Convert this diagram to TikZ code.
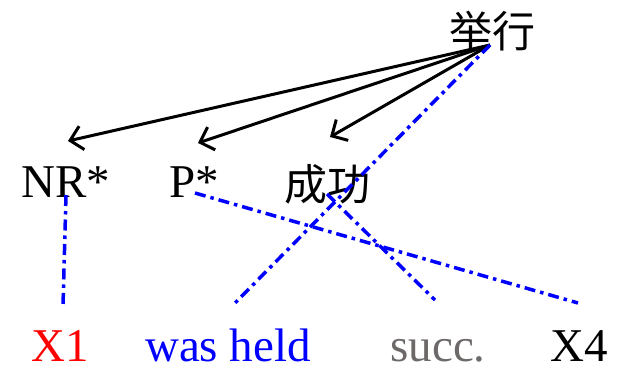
\documentclass[tikz,border=0pt]{standalone}
\usepackage{fontspec}
\setmainfont{Liberation Serif}
\newfontfamily\cjk{Noto Sans CJK SC}
\usetikzlibrary{arrows.meta}
\tikzset{
  lbl/.style={inner sep=0pt, anchor=base, font=\fontsize{47}{50}\selectfont},
  cjklbl/.style={inner sep=0pt, anchor=center, font=\cjk\fontsize{43}{48}\selectfont},
  deparrow/.style={draw=black, line width=3pt, -{Straight Barb[length=12pt,width=24pt,line width=3pt]}},
  alignline/.style={draw=blue, line width=3.5pt, dash pattern=on 11pt off 5pt on 3.5pt off 5pt},
}
\definecolor{succgray}{RGB}{110,105,105}
\begin{document}
\begin{tikzpicture}[x=1pt,y=-1pt]
\useasboundingbox (0,0) rectangle (632,370);
% source tree nodes
\node[cjklbl] (juxing) at (492,31) {举行};
\node[lbl] (nr) at (66,197) {NR*};
\node[lbl] (p) at (194,197) {P*};
\node[cjklbl] (chenggong) at (327,184) {成功};
% target words
\node[lbl, text=red] (x1) at (60,361) {X1};
\node[lbl, text=blue] (held) at (228,361) {was held};
\node[lbl, text=succgray] (succ) at (438,361) {succ.};
\node[lbl] (x4) at (579,361) {X4};
% connector end points
\coordinate (root) at (490,45);
\coordinate (tipnr) at (68,141);
\coordinate (tipp) at (198,143);
\coordinate (tipcg) at (330,137);
\coordinate (nrlow) at (66,195);
\coordinate (x1top) at (63,306);
\coordinate (plow) at (195,193);
\coordinate (x4top) at (578,303);
\coordinate (cglow) at (327,194);
\coordinate (succtop) at (435,300);
\coordinate (heldtop) at (235,303);
% dependency arrows
\draw[deparrow] (root) -- (tipnr);
\draw[deparrow] (root) -- (tipp);
\draw[deparrow] (root) -- (tipcg);
% alignments
\draw[alignline] (nrlow) -- (x1top);
\draw[alignline] (root) -- (heldtop);
\draw[alignline] (plow) -- (x4top);
\draw[alignline] (cglow) -- (succtop);
\end{tikzpicture}
\end{document}
